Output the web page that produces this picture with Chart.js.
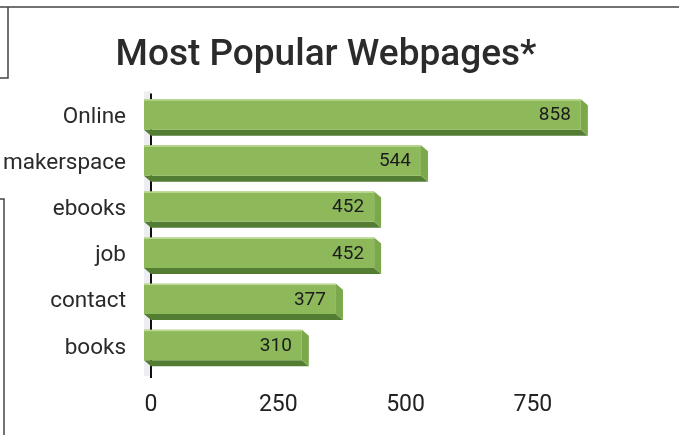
<!DOCTYPE html>
<html>
<head>
<meta charset="utf-8">
<script src="https://cdn.jsdelivr.net/npm/chart.js@4"></script>
<style>
html, body { margin: 0; padding: 0; background: #fff; }
#wrap { width: 679px; height: 435px; }
</style>
</head>
<body>
<div id="wrap"><canvas id="chart" width="679" height="435"></canvas></div>
<script>
const pages = ['Online', 'makerspace', 'ebooks', 'job', 'contact', 'books'];
const hits = [858, 544, 452, 452, 377, 310];
const xTicks = [0, 250, 500, 750];

// fake 3d depth of the bars
const depthX = 7;
const depthY = 6;

const scanFrame = {
    id: 'scanFrame',
    beforeDraw(chart) {
        const ctx = chart.ctx;
        ctx.save();
        ctx.strokeStyle = '#444';
        ctx.lineWidth = 1.5;
        ctx.beginPath();
        ctx.moveTo(0, 7); ctx.lineTo(679, 7);
        ctx.moveTo(8, 7); ctx.lineTo(8, 78); ctx.lineTo(0, 78);
        ctx.moveTo(0, 199); ctx.lineTo(4, 199); ctx.lineTo(4, 435);
        ctx.stroke();
        ctx.restore();
    }
};

const bars3d = {
    id: 'bars3d',
    beforeDatasetsDraw(chart) {
        const ctx = chart.ctx;
        const area = chart.chartArea;
        const meta = chart.getDatasetMeta(0);
        ctx.save();
        // back wall edge left of the axis
        ctx.fillStyle = '#eceef1';
        ctx.fillRect(area.left - depthX, area.top, depthX, area.bottom - area.top + 8);
        ctx.strokeStyle = '#111';
        ctx.lineWidth = 2;
        ctx.beginPath();
        ctx.moveTo(area.left, area.top + 2);
        ctx.lineTo(area.left, area.bottom + 10);
        ctx.stroke();
        meta.data.forEach(bar => {
            const p = bar.getProps(['x', 'y', 'base', 'height'], true);
            const x0 = p.base - depthX;
            const x1 = p.x - depthX;
            const top = p.y - p.height / 2;
            const bot = p.y + p.height / 2;
            // bottom face
            ctx.fillStyle = '#527d33';
            ctx.beginPath();
            ctx.moveTo(x0, bot);
            ctx.lineTo(x1, bot);
            ctx.lineTo(x1 + depthX, bot + depthY);
            ctx.lineTo(x0 + depthX, bot + depthY);
            ctx.closePath();
            ctx.fill();
            // right face
            ctx.fillStyle = '#7aa84b';
            ctx.beginPath();
            ctx.moveTo(x1, top);
            ctx.lineTo(x1 + depthX, top + depthY);
            ctx.lineTo(x1 + depthX, bot + depthY);
            ctx.lineTo(x1, bot);
            ctx.closePath();
            ctx.fill();
        });
        ctx.restore();
        ctx.save();
        ctx.translate(-depthX, 0);
    },
    afterDatasetsDraw(chart) {
        const ctx = chart.ctx;
        ctx.restore();
        const meta = chart.getDatasetMeta(0);
        ctx.save();
        ctx.font = '19px Roboto';
        ctx.textAlign = 'right';
        ctx.textBaseline = 'middle';
        meta.data.forEach((bar, i) => {
            const p = bar.getProps(['x', 'y', 'base', 'height'], true);
            const top = p.y - p.height / 2;
            ctx.fillStyle = 'rgba(190,220,150,0.9)';
            ctx.fillRect(p.base - depthX, top, p.x - p.base, 1.5);
            ctx.fillStyle = '#1c1c1c';
            ctx.fillText(hits[i], p.x - depthX - 10, p.y + 1);
        });
        ctx.restore();
    }
};

const ctx = document.getElementById('chart').getContext('2d');
new Chart(ctx, {
    type: 'bar',
    data: {
        labels: pages,
        datasets: [{
            data: hits,
            backgroundColor: '#8db95b',
            borderWidth: 0,
            categoryPercentage: 0.66,
            barPercentage: 1.0
        }]
    },
    options: {
        responsive: false,
        animation: false,
        indexAxis: 'y',
        layout: {
            padding: { left: 0, right: 27, top: 0, bottom: 0 }
        },
        scales: {
            x: {
                min: 0,
                max: 984,
                grid: { display: false, drawTicks: false },
                border: { display: false },
                afterBuildTicks: scale => {
                    scale.ticks = xTicks.map(v => ({ value: v }));
                },
                afterFit: scale => { scale.height = 67; },
                ticks: {
                    padding: 23,
                    color: '#222',
                    font: { family: 'Roboto', size: 23 }
                }
            },
            y: {
                grid: { display: false, drawTicks: false },
                border: { display: false },
                afterFit: scale => { scale.width = 151; },
                ticks: {
                    padding: 25,
                    labelOffset: 3,
                    color: '#2a2a2a',
                    font: { family: 'Roboto', size: 22.5 }
                }
            }
        },
        plugins: {
            legend: { display: false },
            tooltip: { enabled: false },
            title: {
                display: true,
                text: 'Most Popular Webpages*',
                color: '#2b2b2b',
                font: { family: 'Roboto', size: 37, weight: '500' },
                padding: { top: 34, bottom: 13 }
            }
        }
    },
    plugins: [scanFrame, bars3d]
});
</script>
</body>
</html>
